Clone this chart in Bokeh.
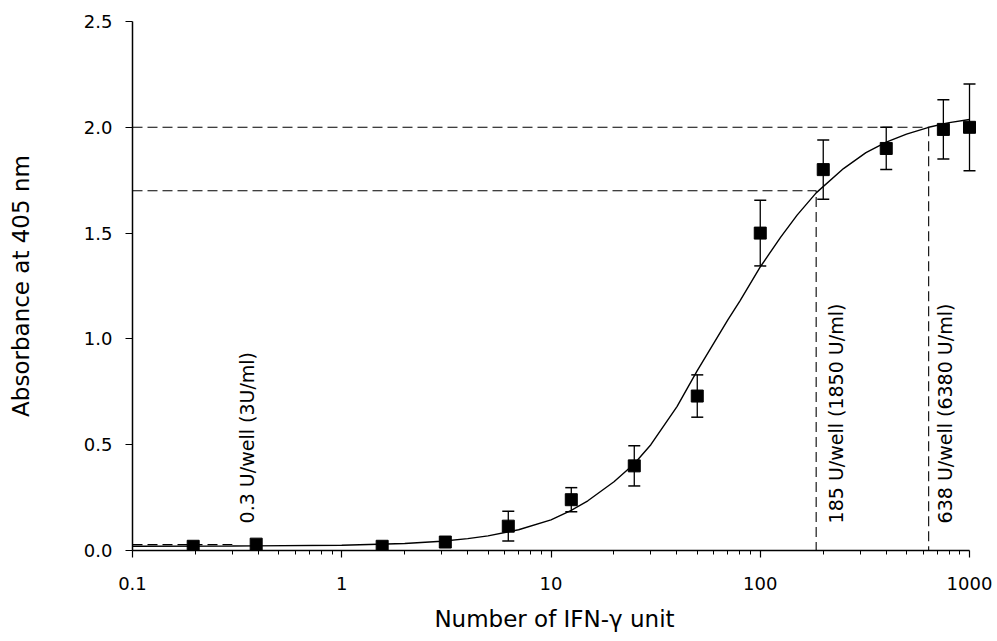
import numpy as np
from bokeh.plotting import figure
from bokeh.models import (ColumnDataSource, Whisker, TeeHead, FixedTicker,
                          CustomJSTickFormatter, PrintfTickFormatter, Range1d)
from bokeh.embed import file_html
from bokeh.resources import INLINE
from bokeh.core.properties import value

# ---------------- data ----------------
ifn_units = [0.195, 0.39, 1.56, 3.125, 6.25, 12.5, 25, 50, 100, 200, 400, 750, 1000]
absorbance = [0.02, 0.03, 0.02, 0.04, 0.115, 0.24, 0.40, 0.73, 1.50, 1.80, 1.90, 1.99, 2.00]
abs_err = [0, 0, 0, 0, 0.07, 0.057, 0.095, 0.10, 0.155, 0.14, 0.10, 0.14, 0.205]

# fitted curve
fit_units = [0.1, 0.3, 1, 2, 3, 4, 5, 7, 10, 12.5, 15, 20, 25, 30, 40, 50, 60, 70,
             80, 100, 125, 150, 185, 250, 320, 400, 500, 638, 800, 1000]
fit_abs = [0.020, 0.021, 0.025, 0.033, 0.044, 0.056, 0.069, 0.098, 0.145, 0.19, 0.235,
           0.325, 0.41, 0.50, 0.68, 0.85, 0.98, 1.09, 1.18, 1.34, 1.48, 1.585, 1.69,
           1.805, 1.88, 1.93, 1.968, 2.00, 2.022, 2.037]

# reference (dashed) lines: units and absorbance levels
guide_units = [0.3, 185, 638]
guide_levels = [0.028, 1.70, 2.00]
guide_labels = ["0.3 U/well (3U/ml)", "185 U/well (1850 U/ml)", "638 U/well (6380 U/ml)"]

x_ticks = [0.1, 1, 10, 100, 1000]
y_ticks = [0.0, 0.5, 1.0, 1.5, 2.0, 2.5]

# ---------------- figure ----------------
FONT = "DejaVu Sans"
p = figure(width=997, height=641, x_axis_type="log",
           x_range=Range1d(0.1, 1080), y_range=Range1d(0, 2.5),
           output_backend="svg", toolbar_location=None,
           min_border_left=132, min_border_right=21,
           min_border_top=21, min_border_bottom=91)
p.xgrid.visible = False
p.ygrid.visible = False
p.outline_line_color = None
p.background_fill_color = "white"
p.border_fill_color = "white"

# dashed guide lines
x0 = x_ticks[0]
p.line([x0, guide_units[0]], [guide_levels[0], guide_levels[0]],
       line_color="black", line_width=1.1, line_dash="10 5")
for u, lv in zip(guide_units[1:], guide_levels[1:]):
    p.line([x0, u, u], [lv, lv, 0], line_color="black", line_width=1.1, line_dash="10 5")

# fitted curve
p.line(fit_units, fit_abs, line_color="black", line_width=1.4)

# error bars
eb_x = [x for x, e in zip(ifn_units, abs_err) if e > 0]
eb_up = [y + e for y, e in zip(absorbance, abs_err) if e > 0]
eb_lo = [y - e for y, e in zip(absorbance, abs_err) if e > 0]
eb_src = ColumnDataSource(dict(x=eb_x, upper=eb_up, lower=eb_lo))
wh = Whisker(source=eb_src, base="x", upper="upper", lower="lower",
             line_color="black", line_width=1.3,
             upper_head=TeeHead(size=12, line_width=1.5, line_color="black"),
             lower_head=TeeHead(size=12, line_width=1.5, line_color="black"))
p.add_layout(wh)

# data points
p.scatter(ifn_units, absorbance, marker="square", size=12,
          fill_color="black", line_color="black")

# rotated annotation texts
text_x = [0.354, 229, 767]
text_y = [0.128, 0.128, 0.128]
p.text(x=text_x, y=text_y, text=guide_labels, angle=np.pi / 2,
       text_align="left", text_baseline="middle",
       text_font=value(FONT), text_font_size=value("19px"), text_color="black")

# axes
for ax in (p.xaxis[0], p.yaxis[0]):
    ax.axis_line_color = "black"
    ax.axis_line_width = 1.5
    ax.major_tick_line_color = "black"
    ax.major_tick_line_width = 1.2
    ax.minor_tick_line_color = "black"
    ax.major_tick_in = 0
    ax.major_tick_out = 7
    ax.minor_tick_in = 0
    ax.major_label_text_font = FONT
    ax.major_label_text_font_size = "18px"
    ax.major_label_text_color = "black"
    ax.axis_label_text_font = FONT
    ax.axis_label_text_font_size = "23px"
    ax.axis_label_text_font_style = "normal"
    ax.axis_label_text_color = "black"

xa = p.xaxis[0]
xa.bounds = (x_ticks[0], x_ticks[-1])
xa.ticker = FixedTicker(ticks=x_ticks,
                        minor_ticks=[m * t for t in x_ticks[:-1] for m in range(2, 10)])
xa.formatter = CustomJSTickFormatter(code="return tick < 1 ? tick.toFixed(1) : tick.toFixed(0);")
xa.minor_tick_out = 4
xa.minor_tick_line_width = 1
xa.major_label_standoff = 19
xa.axis_label = "Number of IFN-γ unit"
xa.axis_label_standoff = 13

ya = p.yaxis[0]
ya.ticker = FixedTicker(ticks=y_ticks, minor_ticks=[])
ya.formatter = PrintfTickFormatter(format="%.1f")
ya.minor_tick_out = 0
ya.major_label_standoff = 13
ya.axis_label = "Absorbance at 405 nm"
ya.axis_label_standoff = 47

open("out.html", "w").write(file_html(p, INLINE))
